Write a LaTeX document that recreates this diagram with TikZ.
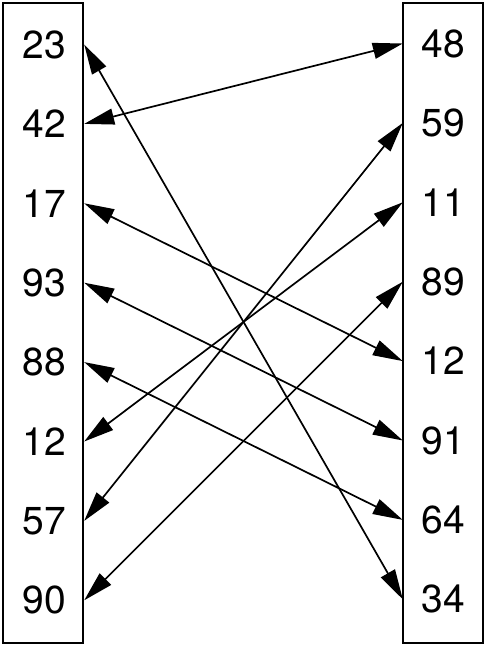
\documentclass[tikz,border=0pt]{standalone}
\usepackage{fontspec}
\setmainfont{TeX Gyre Heros}
\usetikzlibrary{arrows.meta}

\begin{document}
\begin{tikzpicture}[x=1pt, y=-1pt,
                        num/.style={minimum width=80pt, minimum height=79.5pt, inner sep=0pt, font=\fontsize{39}{40}\selectfont},
                        boxline/.style={black, line width=2pt},
                        link/.style={black, line width=1.7pt, {Triangle[length=30pt,width=16pt]}-{Triangle[length=30pt,width=16pt]}}]
                        \useasboundingbox (0,0) rectangle (486,646);
                        \draw[boxline] (3,3) rectangle (83,643);
                        \draw[boxline] (403,3) rectangle (483,643);
                        \foreach \v [count=\i] in {23,42,17,93,88,12,57,90}
                            \node[num] (l\i) at (44, {44.5 + 79.4*(\i-1)}) {\v};
                        \foreach \v [count=\i] in {48,59,11,89,12,91,64,34}
                            \node[num] (r\i) at (443, {43.5 + 79.4*(\i-1)}) {\v};
                        \foreach \a/\b in {1/8, 2/1, 3/5, 4/6, 5/7, 6/3, 7/2, 8/4}
                            \draw[link] (l\a.east) -- (r\b.west);
                    \end{tikzpicture}
\end{document}
